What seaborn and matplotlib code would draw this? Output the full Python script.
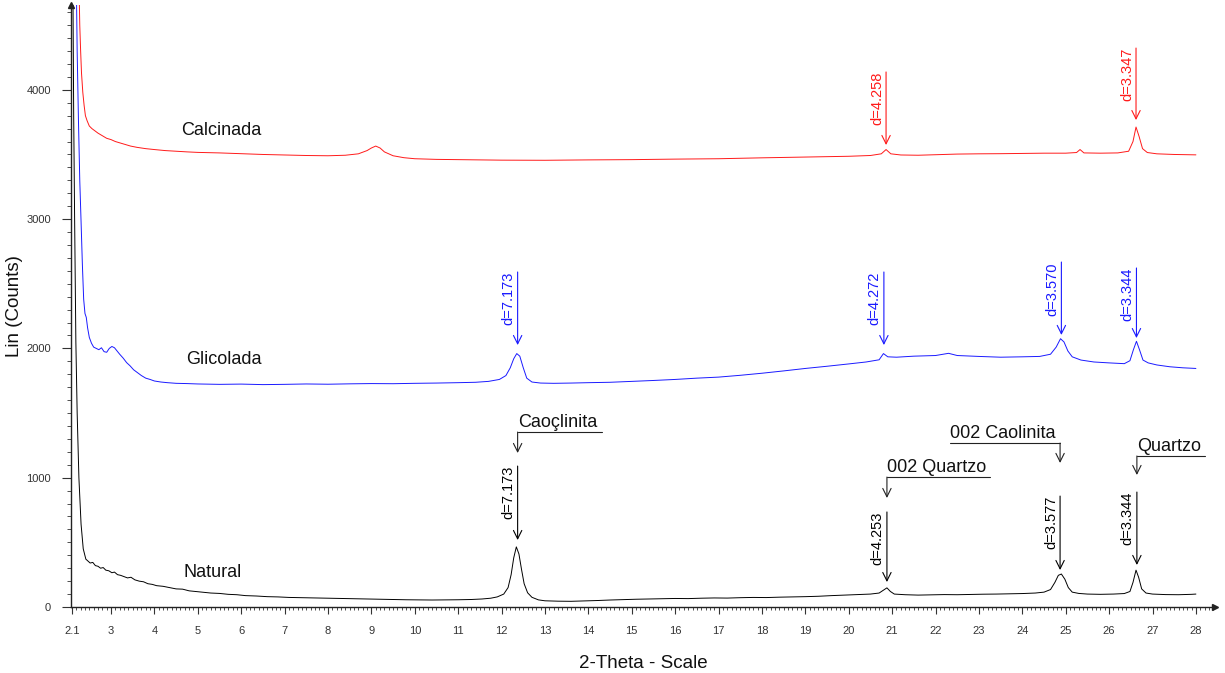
import numpy as np
import pandas as pd
import matplotlib
matplotlib.use("Agg")
import matplotlib.pyplot as plt
from matplotlib.ticker import MultipleLocator
import seaborn as sns

# ---------------- data ----------------
natural_2theta = [2.12, 2.14, 2.16, 2.19, 2.22, 2.26, 2.31, 2.36, 2.42, 2.47, 2.52, 2.58, 2.64, 2.70, 2.76,
                  2.82, 2.88, 2.95, 3.02, 3.08, 3.15, 3.22, 3.30, 3.38, 3.46, 3.55, 3.65, 3.75, 3.85, 3.95,
                  4.05, 4.2, 4.35, 4.5, 4.65, 4.8, 4.95, 5.1, 5.3, 5.5, 5.7, 5.9, 6.1, 6.35, 6.6, 6.85, 7.1,
                  7.4, 7.7, 8.0, 8.3, 8.6, 8.9, 9.2, 9.5, 9.8, 10.1, 10.4, 10.7, 11.0, 11.3, 11.55, 11.75,
                  11.9, 12.05, 12.15, 12.22, 12.28, 12.34, 12.40, 12.46, 12.52, 12.6, 12.7, 12.85, 13.0,
                  13.3, 13.6, 13.9, 14.2, 14.5, 14.8, 15.1, 15.4, 15.7, 16.0, 16.3, 16.6, 16.9, 17.2, 17.5,
                  17.8, 18.1, 18.4, 18.7, 19.0, 19.3, 19.6, 19.9, 20.2, 20.5, 20.7, 20.8, 20.88, 20.96,
                  21.05, 21.3, 21.6, 21.9, 22.2, 22.5, 22.8, 23.1, 23.4, 23.7, 24.0, 24.3, 24.5, 24.65,
                  24.75, 24.83, 24.9, 24.98, 25.06, 25.15, 25.3, 25.5, 25.8, 26.1, 26.35, 26.48, 26.55,
                  26.62, 26.68, 26.75, 26.85, 27.0, 27.3, 27.6, 27.9, 28.0]
natural_counts = [4900, 3800, 3050, 2050, 1500, 1000, 640, 450, 370, 355, 340, 345, 320, 315, 300,
                  305, 285, 280, 265, 270, 250, 245, 235, 225, 230, 210, 200, 195, 180, 175,
                  165, 160, 150, 140, 138, 125, 120, 115, 108, 105, 98, 95, 88, 85, 80, 78, 74,
                  72, 70, 68, 66, 64, 62, 60, 58, 56, 55, 54, 55, 56, 58, 62, 68,
                  78, 100, 150, 250, 380, 465, 410, 290, 180, 110, 75, 55, 48,
                  45, 44, 47, 50, 54, 57, 60, 62, 64, 66, 65, 68, 70, 69, 72,
                  74, 73, 76, 78, 80, 83, 88, 92, 96, 100, 108, 130, 148, 120,
                  100, 95, 92, 94, 96, 95, 97, 99, 100, 102, 104, 108, 115, 135,
                  190, 245, 255, 215, 150, 115, 105, 100, 98, 100, 104, 120, 190,
                  285, 230, 140, 108, 100, 96, 95, 98, 100]

glicolada_2theta = [2.20, 2.22, 2.25, 2.28, 2.31, 2.34, 2.37, 2.40, 2.43, 2.46, 2.50, 2.55, 2.60, 2.66,
                    2.72, 2.78, 2.84, 2.90, 2.96, 3.02, 3.08, 3.14, 3.20, 3.28, 3.36, 3.44, 3.52, 3.60,
                    3.70, 3.80, 3.90, 4.00, 4.15, 4.3, 4.5, 4.75, 5.0, 5.5, 6.0, 6.5, 7.0, 7.5, 8.0, 8.5,
                    9.0, 9.5, 10.0, 10.5, 11.0, 11.4, 11.7, 11.95, 12.1, 12.2, 12.28, 12.35, 12.42, 12.5,
                    12.58, 12.7, 12.9, 13.2, 13.6, 14.0, 14.5, 15.0, 15.5, 16.0, 16.5, 17.0, 17.5, 18.0,
                    18.5, 19.0, 19.5, 20.0, 20.4, 20.7, 20.8, 20.9, 21.1, 21.5, 22.0, 22.3, 22.5, 23.0,
                    23.5, 24.0, 24.4, 24.65, 24.78, 24.88, 24.96, 25.05, 25.15, 25.35, 25.65, 26.0,
                    26.35, 26.48, 26.56, 26.63, 26.7, 26.78, 26.9, 27.1, 27.4, 27.7, 28.0]
glicolada_counts = [4850, 4300, 3760, 3300, 2980, 2650, 2380, 2270, 2240, 2160, 2085, 2040, 2010, 2000,
                    1990, 2005, 1975, 1970, 2000, 2015, 2005, 1980, 1955, 1925, 1890, 1865, 1835, 1815,
                    1790, 1770, 1760, 1748, 1740, 1735, 1730, 1728, 1725, 1722, 1724, 1720, 1722, 1725, 1723, 1726,
                    1728, 1727, 1730, 1732, 1735, 1738, 1745, 1760, 1790, 1850, 1920, 1960, 1940, 1850,
                    1770, 1740, 1732, 1730, 1732, 1735, 1738, 1745, 1752, 1760, 1770, 1778, 1792, 1808,
                    1826, 1845, 1862, 1880, 1895, 1912, 1960, 1935, 1932, 1940, 1945, 1962, 1945, 1938,
                    1932, 1935, 1938, 1955, 2010, 2075, 2050, 1980, 1935, 1910, 1895, 1888,
                    1882, 1905, 1990, 2055, 1990, 1910, 1888, 1872, 1858, 1850, 1845]

calcinada_2theta = [2.26, 2.28, 2.30, 2.32, 2.35, 2.38, 2.41, 2.45, 2.5, 2.56, 2.62, 2.7, 2.8, 2.9, 3.0,
                    3.1, 3.2, 3.3, 3.45, 3.6, 3.8, 4.0, 4.25, 4.5, 4.75, 5.0, 5.5, 6.0, 6.5, 7.0, 7.5,
                    8.0, 8.4, 8.7, 8.9, 9.0, 9.1, 9.2, 9.3, 9.5, 9.75, 10.0, 10.5, 11.0, 12.0, 13.0, 14.0,
                    15.0, 16.0, 17.0, 18.0, 19.0, 20.0, 20.5, 20.75, 20.86, 20.97, 21.2, 21.6, 22.0, 22.5,
                    23.0, 23.5, 24.0, 24.5, 25.0, 25.25, 25.33, 25.42, 25.8, 26.2, 26.45, 26.55, 26.62,
                    26.69, 26.77, 26.88, 27.1, 27.5, 28.0]
calcinada_counts = [4850, 4500, 4300, 4130, 3980, 3880, 3800, 3760, 3720, 3700, 3685, 3665, 3645, 3625, 3615,
                    3600, 3590, 3580, 3565, 3555, 3545, 3538, 3530, 3525, 3520, 3516, 3512, 3506, 3500, 3496, 3492,
                    3490, 3494, 3505, 3530, 3550, 3565, 3550, 3520, 3490, 3475, 3467, 3462, 3460, 3456, 3455, 3458,
                    3460, 3464, 3467, 3474, 3480, 3486, 3492, 3505, 3538, 3505, 3496, 3494, 3498, 3503,
                    3505, 3506, 3508, 3510, 3510, 3515, 3538, 3512, 3510, 3512, 3525, 3600, 3712,
                    3640, 3545, 3515, 3505, 3500, 3497]

sample_names = ["Natural", "Glicolada", "Calcinada"]
sample_colors = {"Natural": "#000000", "Glicolada": "#1a1aff", "Calcinada": "#ff1a1a"}
x_tick_values = [2.1] + list(range(3, 29))
x_tick_labels = ["2.1"] + [str(v) for v in range(3, 29)]
y_tick_values = [0, 1000, 2000, 3000, 4000]

# d-spacing annotations: (sample, 2theta, label, arrow top, arrow tip)
d_labels_series = ["Calcinada", "Calcinada", "Glicolada", "Glicolada", "Glicolada", "Glicolada",
                   "Natural", "Natural", "Natural", "Natural"]
d_labels_x = [20.86, 26.62, 12.37, 20.81, 24.90, 26.63, 12.37, 20.88, 24.87, 26.64]
d_labels_text = ["d=4.258", "d=3.347", "d=7.173", "d=4.272", "d=3.570", "d=3.344",
                 "d=7.173", "d=4.253", "d=3.577", "d=3.344"]
d_labels_top = [4138, 4323, 2591, 2591, 2668, 2622, 1090, 735, 858, 889]
d_labels_tip = [3573, 3766, 2026, 2026, 2104, 2080, 518, 193, 286, 325]

# phase labels: text, arrow x, line start x, line end x, line level, arrow tip
phase_text = ["Caoçlinita", "002 Quartzo", "002 Caolinita", "Quartzo"]
phase_x = [12.37, 20.88, 24.87, 26.64]
phase_line_from = [12.37, 20.88, 22.33, 26.64]
phase_line_to = [14.31, 23.25, 24.87, 28.21]
phase_level = [1353, 1005, 1268, 1168]
phase_tip = [1191, 843, 1114, 1021]

sample_label_x = [4.66, 4.73, 4.61]
sample_label_y = [263, 1918, 3689]

# ---------------- plotting ----------------
sns.set_theme(style="white")
plt.rcParams["font.family"] = ["Liberation Sans", "DejaVu Sans"]

frames = []
for name, xs, ys in [("Natural", natural_2theta, natural_counts),
                     ("Glicolada", glicolada_2theta, glicolada_counts),
                     ("Calcinada", calcinada_2theta, calcinada_counts)]:
    frames.append(pd.DataFrame({"two_theta": xs, "counts": ys, "sample": name}))
df = pd.concat(frames, ignore_index=True)

fig = plt.figure(figsize=(12.25, 6.73), dpi=100)
ax = fig.add_axes([71 / 1225, 66 / 673, 1144 / 1225, 602 / 673])

sns.lineplot(data=df, x="two_theta", y="counts", hue="sample", palette=sample_colors,
             hue_order=sample_names, estimator=None, sort=False, linewidth=0.7,
             legend=False, ax=ax)

ax.set_xlim(2.078, 28.44)
ax.set_ylim(0, 4656)

for s in ["top", "right"]:
    ax.spines[s].set_visible(False)
for s in ["left", "bottom"]:
    ax.spines[s].set_color("#222222")
    ax.spines[s].set_linewidth(1.0)

ax.set_xticks(x_tick_values)
ax.set_xticklabels(x_tick_labels)
ax.xaxis.set_minor_locator(MultipleLocator(0.1))
ax.set_yticks(y_tick_values)
ax.set_yticklabels([str(v) for v in y_tick_values])
ax.yaxis.set_minor_locator(MultipleLocator(100))

ax.tick_params(axis="x", which="major", direction="out", length=5, width=0.8,
               colors="#333333", labelsize=8, pad=9, bottom=True)
ax.tick_params(axis="x", which="minor", direction="out", length=2.5, width=0.6,
               color="#333333", bottom=True)
ax.tick_params(axis="y", which="major", direction="out", length=6.5, width=0.8,
               colors="#333333", labelsize=8, pad=8, left=True)
ax.tick_params(axis="y", which="minor", direction="out", length=3, width=0.6,
               color="#333333", left=True)

ax.set_xlabel("2-Theta - Scale", fontsize=13.5, color="#111111", labelpad=13)
ax.set_ylabel("Lin (Counts)", fontsize=13.5, color="#111111", labelpad=2)

# axis arrow heads
ax.plot([0], [1], marker="^", color="#222222", markersize=5, transform=ax.transAxes, clip_on=False)
ax.plot([1], [0], marker=">", color="#222222", markersize=5, transform=ax.transAxes, clip_on=False)

arrow_style = "->,head_length=0.5,head_width=0.25"

for s, x, txt, top, tip in zip(d_labels_series, d_labels_x, d_labels_text, d_labels_top, d_labels_tip):
    c = sample_colors[s]
    ax.annotate("", xy=(x, tip), xytext=(x, top),
                arrowprops=dict(arrowstyle=arrow_style, color=c, lw=0.8,
                                shrinkA=0, shrinkB=0, mutation_scale=12))
    ax.annotate(txt, xy=(x, top), xytext=(-1.5, 0), textcoords="offset points",
                rotation=90, ha="right", va="top", color=c, fontsize=10.5)

for txt, x, x0, x1, lvl, tip in zip(phase_text, phase_x, phase_line_from, phase_line_to,
                                    phase_level, phase_tip):
    ax.plot([x0, x1], [lvl, lvl], color="#222222", lw=0.8)
    ax.annotate("", xy=(x, tip), xytext=(x, lvl),
                arrowprops=dict(arrowstyle=arrow_style, color="#222222", lw=0.8,
                                shrinkA=0, shrinkB=0, mutation_scale=12))
    ax.text(x0, lvl + 40, txt, ha="left", va="baseline", fontsize=13, color="#111111")

for name, x, y in zip(sample_names, sample_label_x, sample_label_y):
    ax.text(x, y, name, ha="left", va="center", fontsize=13, color="#111111")

fig.savefig("out.png", dpi=100)
